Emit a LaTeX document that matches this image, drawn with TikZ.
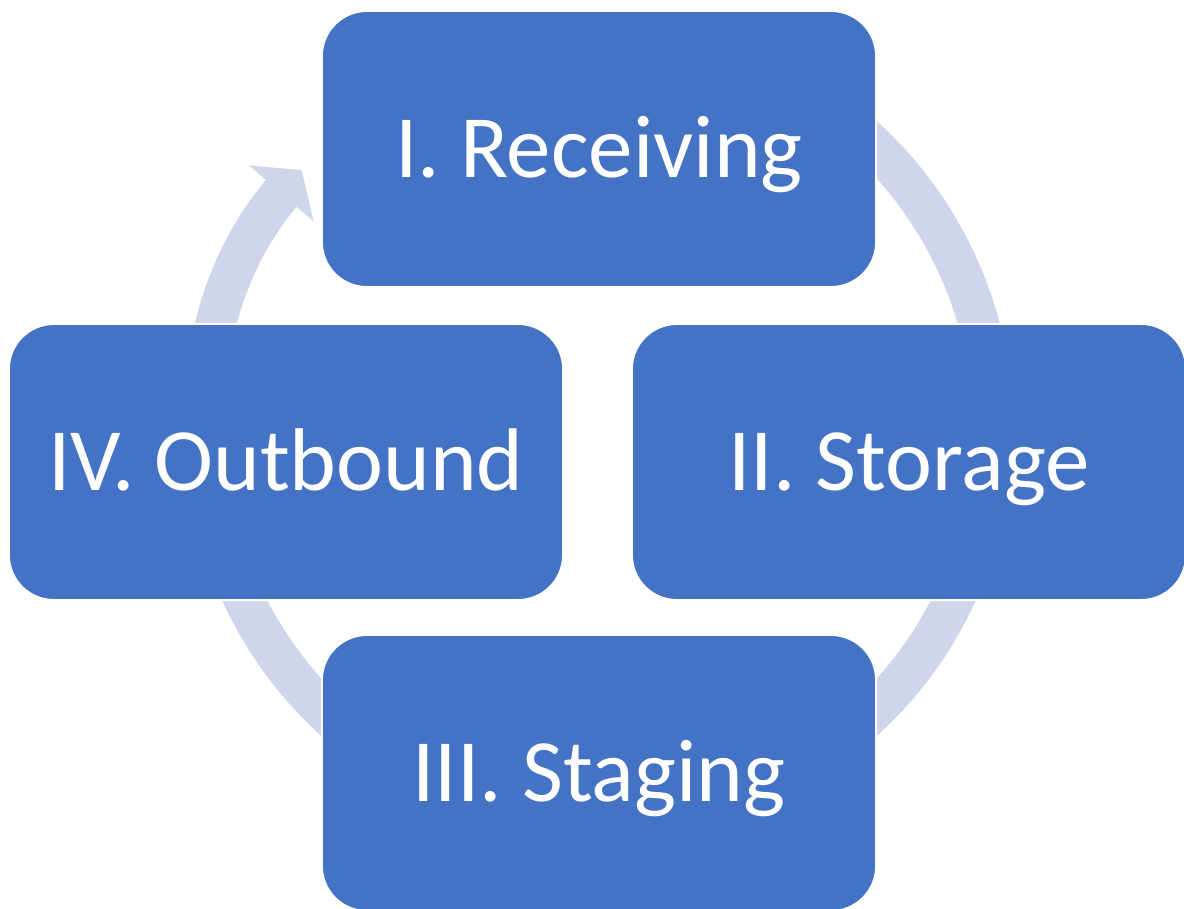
\documentclass[tikz,border=0pt]{standalone}
\usepackage{fontspec}
\setmainfont{Carlito}
\definecolor{stageblue}{RGB}{68,114,196}
\definecolor{ringgrey}{RGB}{207,213,234}
\usetikzlibrary{arrows.meta,positioning}

\begin{document}
\begin{tikzpicture}[x=0.01cm, y=-0.01cm,
  stagebox/.style={draw=white, line width=0.6pt, fill=stageblue, rounded corners=0.45cm,
    minimum width=5.54cm, minimum height=2.76cm, text=white,
    text height=16pt, text depth=0pt,
    font=\fontsize{25.3}{30}\selectfont},
  cyclering/.style={ringgrey, line width=0.406cm, -{Triangle[width=0.84cm, length=0.31cm]}}]
\useasboundingbox (0,0) rectangle (1184,909);
% ring behind the boxes, clockwise, tip ends at the first stage
\coordinate (hub) at (599,428.5);
\draw[cyclering] (hub) ++(120:3.937cm) arc[start angle=120, end angle=-221, radius=3.937cm];
% the four stages
\node[stagebox] (receiving) at (599,149) {I. Receiving};
\node[stagebox] (storage) at (909,462) {II. Storage};
\node[stagebox] (staging) at (599,773) {III. Staging};
\node[stagebox] (outbound) at (286,462) {IV. Outbound};
\end{tikzpicture}
\end{document}
